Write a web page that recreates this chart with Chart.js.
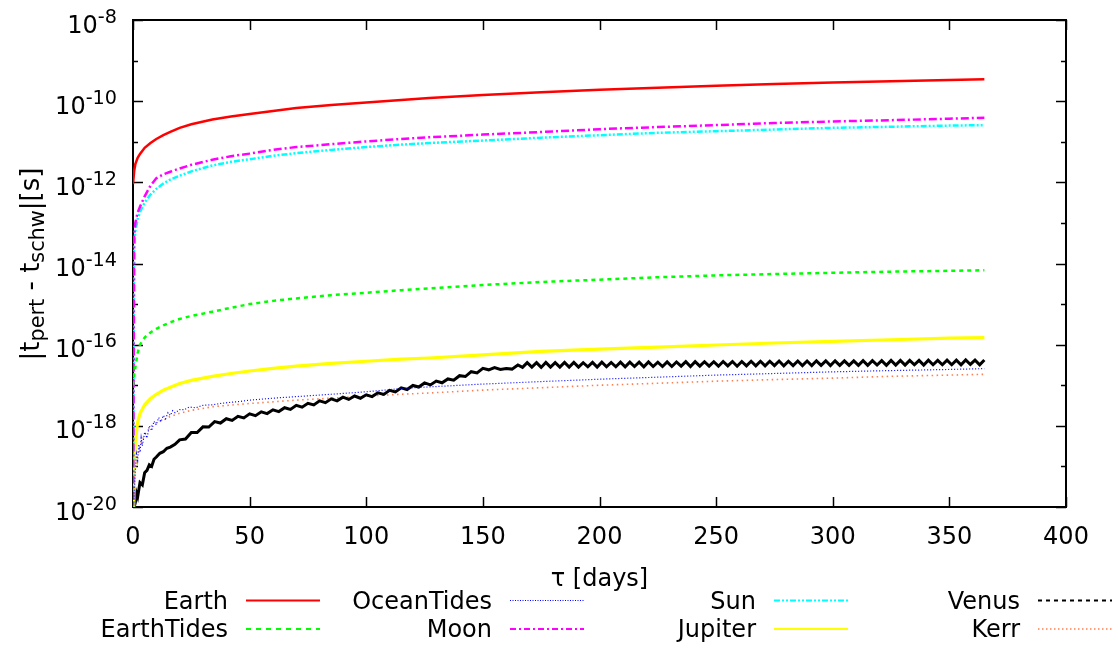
<!DOCTYPE html>
<html><head><meta charset="utf-8">
<script src="https://cdn.jsdelivr.net/npm/chart.js@4.4.1/dist/chart.umd.min.js"></script>
<style>html,body{margin:0;padding:0;background:#fff;}#wrap{width:1118px;height:648px;}</style>
</head><body><div id="wrap"><canvas id="c" width="1118" height="648"></canvas></div>
<script>
// ---- data ----
const seriesNames = ['Earth','EarthTides','OceanTides','Moon','Sun','Jupiter','Venus','Kerr'];
const xTickValues = [0,50,100,150,200,250,300,350,400];
const xTickLabels = ['0','50','100','150','200','250','300','350','400'];
const yMajorExp = [-8,-10,-12,-14,-16,-18,-20];
const yMinorExp = [-9,-11,-13,-15,-17,-19];
const xTitle = 'τ [days]';

const tau = [0,0.5,1,2,3,5,7.5,10,13,16,20,25,34,42,50,60,70,85,100,115,127,150,175,200,225,250,275,300,325,350,365];
const earth = [9e-13,1.9e-12,2.8e-12,4.0e-12,5.0e-12,7.1e-12,9.3e-12,1.17e-11,1.45e-11,1.74e-11,2.2e-11,2.7e-11,3.55e-11,4.2e-11,4.8e-11,5.75e-11,6.8e-11,8.1e-11,9.3e-11,1.07e-10,1.2e-10,1.41e-10,1.66e-10,1.9e-10,2.14e-10,2.4e-10,2.63e-10,2.9e-10,3.1e-10,3.3e-10,3.47e-10];
const earthTides = [1e-17,1.8e-17,2.8e-17,6.3e-17,1e-16,1.5e-16,2e-16,2.45e-16,3e-16,3.55e-16,4.3e-16,5.1e-16,6.5e-16,8.1e-16,1e-15,1.2e-15,1.38e-15,1.66e-15,1.9e-15,2.2e-15,2.45e-15,2.95e-15,3.5e-15,4e-15,4.6e-15,5.1e-15,5.5e-15,5.9e-15,6.3e-15,6.6e-15,6.8e-15];
const moon = [1e-21,5e-14,1e-13,1.8e-13,2.5e-13,4.5e-13,8.3e-13,1.26e-12,1.58e-12,1.82e-12,2.2e-12,2.7e-12,3.6e-12,4.4e-12,5.1e-12,6.3e-12,7.4e-12,8.7e-12,1.02e-11,1.17e-11,1.29e-11,1.5e-11,1.74e-11,2.04e-11,2.3e-11,2.57e-11,2.9e-11,3.16e-11,3.4e-11,3.7e-11,3.9e-11];
const sun = [1e-21,2.5e-14,6.3e-14,1.26e-13,1.86e-13,3.2e-13,5e-13,6.9e-13,9.3e-13,1.17e-12,1.45e-12,1.86e-12,2.6e-12,3.2e-12,3.7e-12,4.5e-12,5.25e-12,6.3e-12,7.4e-12,8.5e-12,9.3e-12,1.07e-11,1.26e-11,1.45e-11,1.66e-11,1.82e-11,2.0e-11,2.2e-11,2.34e-11,2.5e-11,2.57e-11];
const jupiter = [1e-21,4e-20,4e-19,1.26e-18,2e-18,3.3e-18,4.7e-18,6e-18,7.6e-18,8.9e-18,1.1e-17,1.32e-17,1.66e-17,1.95e-17,2.24e-17,2.6e-17,2.95e-17,3.45e-17,3.9e-17,4.4e-17,4.7e-17,5.6e-17,6.8e-17,7.8e-17,8.7e-17,9.8e-17,1.1e-16,1.2e-16,1.32e-16,1.45e-16,1.5e-16];
const kerr = [1e-21,2.5e-20,1e-19,2e-19,3.2e-19,6e-19,9.5e-19,1.2e-18,1.38e-18,1.7e-18,2.04e-18,2.4e-18,2.95e-18,3.25e-18,3.55e-18,3.9e-18,4.3e-18,4.8e-18,5.4e-18,6e-18,6.45e-18,7.6e-18,8.7e-18,1e-17,1.12e-17,1.26e-17,1.38e-17,1.5e-17,1.66e-17,1.78e-17,1.86e-17];

const oceanTau = [0,0.5,1,1.5,2,2.5,3,3.5,4,5,6,7,8,9,10,11,12,13,14,15,16,17,18,20,22,24,27,30,34,38,42,46,50,60,70,85,100,115,127,150,175,200,225,250,275,300,325,350,365];
const oceanTides = [1e-21,2.5e-20,8e-20,2e-19,1.4e-19,3.5e-19,2.2e-19,5e-19,3.2e-19,7e-19,5e-19,1e-18,7.6e-19,1.3e-18,1.05e-18,1.6e-18,1.26e-18,1.8e-18,1.5e-18,2.1e-18,1.8e-18,2.35e-18,2.1e-18,2.5e-18,2.5e-18,2.9e-18,2.8e-18,3.2e-18,3.3e-18,3.6e-18,3.8e-18,4e-18,4.3e-18,4.8e-18,5.25e-18,6e-18,6.9e-18,8.3e-18,9.1e-18,1.07e-17,1.23e-17,1.41e-17,1.58e-17,1.78e-17,1.95e-17,2.14e-17,2.3e-17,2.45e-17,2.57e-17];

const venusTau = [0,0.5,1,1.5,2,3,4,5,6,7,8,9,10,11.5,13,14.5,16,18,
 20,22.5,25,27.5,30,32.5,35,37.5,40,42.5,45,47.5,50,52.5,55,57.5,60,62.5,65,67.5,70,72.5,75,77.5,80,82.5,85,87.5,90,92.5,95,97.5,
 100,102.5,105,107.5,110,112.5,115,117.5,120,122.5,125,127.5,130,132.5,135,137.5,140,142.5,145,147.5,150,152.5,155,157.5,160,162.5,165,
 167,169,171,173,175,177,179,181,183,185,187,189,191,193,195,197,199,201,203,205,
 207,209,211,213,215,217,219,221,223,225,227,229,231,233,235,237,239,241,243,245,
 247,249,251,253,255,257,259,261,263,265,267,269,271,273,275,277,279,281,283,285,
 287,289,291,293,295,297,299,301,303,305,307,309,311,313,315,317,319,321,323,325,
 327,329,331,333,335,337,339,341,343,345,347,349,351,353,355,357,359,361,363,365];
const venus = [1e-21,1e-20,1.3e-20,2.2e-20,1.8e-20,4e-20,3.5e-20,7e-20,8e-20,1.1e-19,1.0e-19,1.5e-19,1.7e-19,2.1e-19,2.3e-19,2.8e-19,3.0e-19,3.5e-19,
 4.52e-19,4.73e-19,6.84e-19,6.84e-19,9.44e-19,9.33e-19,1.27e-18,1.17e-18,1.5e-18,1.36e-18,1.72e-18,1.57e-18,1.97e-18,1.78e-18,2.21e-18,2.0e-18,2.48e-18,2.24e-18,2.79e-18,2.54e-18,3.2e-18,2.88e-18,3.59e-18,3.27e-18,4.12e-18,3.72e-18,4.62e-18,4.12e-18,5.07e-18,4.47e-18,5.43e-18,4.79e-18,
 5.82e-18,5.25e-18,6.53e-18,5.96e-18,7.5e-18,6.84e-18,8.61e-18,7.85e-18,9.89e-18,9.02e-18,1.14e-17,1.02e-17,1.27e-17,1.15e-17,1.43e-17,1.33e-17,1.72e-17,1.64e-17,2.16e-17,2.02e-17,2.6e-17,2.4e-17,2.72e-17,2.45e-17,2.6e-17,2.5e-17,3.16e-17,
 2.75e-17,3.6e-17,2.8e-17,3.6e-17,2.75e-17,3.65e-17,2.8e-17,3.6e-17,2.8e-17,3.65e-17,2.8e-17,3.65e-17,2.8e-17,3.6e-17,2.85e-17,3.65e-17,2.8e-17,3.7e-17,2.85e-17,3.65e-17,
 2.85e-17,3.7e-17,2.85e-17,3.7e-17,2.9e-17,3.7e-17,2.85e-17,3.75e-17,2.9e-17,3.7e-17,2.9e-17,3.75e-17,2.9e-17,3.75e-17,2.95e-17,3.8e-17,2.9e-17,3.8e-17,2.95e-17,3.8e-17,
 2.95e-17,3.8e-17,2.95e-17,3.85e-17,3.0e-17,3.85e-17,2.95e-17,3.85e-17,3.0e-17,3.9e-17,3.0e-17,3.9e-17,3.0e-17,3.9e-17,3.05e-17,3.95e-17,3.0e-17,3.9e-17,3.05e-17,3.95e-17,
 3.05e-17,3.95e-17,3.05e-17,4.0e-17,3.1e-17,4.0e-17,3.05e-17,4.0e-17,3.1e-17,4.0e-17,3.1e-17,4.0e-17,3.1e-17,4.05e-17,3.1e-17,4.05e-17,3.15e-17,4.05e-17,3.1e-17,4.1e-17,
 3.15e-17,4.1e-17,3.15e-17,4.1e-17,3.2e-17,4.1e-17,3.15e-17,4.15e-17,3.2e-17,4.1e-17,3.2e-17,4.15e-17,3.2e-17,4.15e-17,3.2e-17,4.2e-17,3.25e-17,4.15e-17,3.2e-17,4.2e-17];

const seriesColors = ['#ff0000','#00ff00','#0000ff','#ff00ff','#00ffff','#ffff00','#000000','#ff7f50'];

// ---- build chart ----
function pts(xs, ys){ return xs.map((x,i)=>({x:x, y:ys[i]})); }
const seriesData = [pts(tau,earth), pts(tau,earthTides), pts(oceanTau,oceanTides), pts(tau,moon), pts(tau,sun), pts(tau,jupiter), pts(venusTau,venus), pts(tau,kerr)];
const styles = [
  {w:2.5, dash:[], ldash:[]},
  {w:2.5, dash:[4,4], ldash:[5,5]},
  {w:1.2, dash:[1,2], ldash:[1,1.5]},
  {w:2.5, dash:[8,3,2,3], ldash:[6,3,2,3]},
  {w:2.5, dash:[6,2,2,2,2,2], ldash:[6,2,2,2,2,2]},
  {w:3.2, dash:[], ldash:[]},
  {w:3, dash:[], ldash:[4,4]},
  {w:1.6, dash:[1.5,3.5], ldash:[1.5,2.5]}
];
const datasets = seriesNames.map((n,i)=>({
  label:n, data:seriesData[i], borderColor:seriesColors[i], backgroundColor:seriesColors[i],
  borderWidth:styles[i].w, borderDash:styles[i].dash, legendDash:styles[i].ldash,
  pointRadius:0, tension:0, fill:false
}));

const FONT = '"DejaVu Sans", sans-serif';
const BASE = 24, SUP = 19.2, TBASE = 26, TSUB = 20.8;

const decor = {
  id:'decor',
  beforeDatasetsDraw(chart){
    const ctx=chart.ctx, a=chart.chartArea, xs=chart.scales.x, ys=chart.scales.y;
    ctx.save();
    ctx.strokeStyle='#000'; ctx.lineWidth=1.5; ctx.setLineDash([]);
    const L=(x1,y1,x2,y2)=>{ctx.beginPath();ctx.moveTo(x1,y1);ctx.lineTo(x2,y2);ctx.stroke();};
    xTickValues.forEach(v=>{const p=Math.round(xs.getPixelForValue(v))+0.5; L(p,a.bottom,p,a.bottom-10); L(p,a.top,p,a.top+10);});
    yMajorExp.forEach(e=>{const p=Math.round(ys.getPixelForValue(Math.pow(10,e)))+0.5; L(a.left,p,a.left+10,p); L(a.right,p,a.right-10,p);});
    yMinorExp.forEach(e=>{const p=Math.round(ys.getPixelForValue(Math.pow(10,e)))+0.5; L(a.left,p,a.left+5,p); L(a.right,p,a.right-5,p);});
    ctx.lineWidth=2;
    ctx.strokeRect(a.left, a.top, a.right-a.left, a.bottom-a.top);
    ctx.restore();
  },
  afterDraw(chart){
    const ctx=chart.ctx, a=chart.chartArea, xs=chart.scales.x, ys=chart.scales.y;
    ctx.save();
    ctx.fillStyle='#000'; ctx.textBaseline='alphabetic';
    // x tick labels
    ctx.font=BASE+'px '+FONT; ctx.textAlign='center';
    xTickValues.forEach((v,i)=>{ctx.fillText(xTickLabels[i], xs.getPixelForValue(v), a.bottom+36.5);});
    // y tick labels 10^e
    yMajorExp.forEach(e=>{
      const p=ys.getPixelForValue(Math.pow(10,e));
      const right=a.left-16;
      ctx.font=SUP+'px '+FONT; ctx.textAlign='right';
      const s=String(e); ctx.fillText(s,right,p+2.5);
      const w=ctx.measureText(s).width;
      ctx.font=BASE+'px '+FONT; ctx.fillText('10',right-w,p+12.5);
    });
    // x title
    ctx.font=BASE+'px '+FONT; ctx.textAlign='center';
    ctx.fillText(xTitle,(a.left+a.right)/2,586);
    // y title with subscripts
    const parts=[['|t',0],['pert',1],[' - t',0],['schw',1],['|[s]',0]];
    let tot=0; parts.forEach(pp=>{ctx.font=(pp[1]?TSUB:TBASE)+'px '+FONT; tot+=ctx.measureText(pp[0]).width;});
    ctx.translate(39,264); ctx.rotate(-Math.PI/2);
    ctx.textAlign='left';
    let x=-tot/2;
    parts.forEach(pp=>{ctx.font=(pp[1]?TSUB:TBASE)+'px '+FONT; ctx.fillText(pp[0],x,pp[1]?5:0); x+=ctx.measureText(pp[0]).width;});
    ctx.restore();
    // legend (4 columns x 2 rows, column-major)
    ctx.save();
    chart.data.datasets.forEach((ds,i)=>{
      const col=Math.floor(i/2), row=i%2;
      const tr=228+col*264, y=600+row*28.5;
      ctx.fillStyle='#000'; ctx.font=BASE+'px '+FONT; ctx.textAlign='right'; ctx.textBaseline='alphabetic';
      ctx.fillText(ds.label,tr,y+8.5);
      ctx.strokeStyle=ds.borderColor; ctx.lineWidth=Math.min(ds.borderWidth,2); ctx.setLineDash(ds.legendDash);
      ctx.beginPath(); ctx.moveTo(tr+18,y+0.5); ctx.lineTo(tr+92,y+0.5); ctx.stroke();
    });
    ctx.restore();
  }
};

new Chart(document.getElementById('c'),{
  type:'line',
  data:{datasets:datasets},
  options:{
    responsive:false, animation:false, devicePixelRatio:1,
    layout:{padding:{left:133,right:52,top:20,bottom:141}},
    plugins:{legend:{display:false}, tooltip:{enabled:false}},
    scales:{
      x:{type:'linear',min:0,max:400,grid:{display:false,drawTicks:false,tickLength:0},border:{display:false},ticks:{display:false,stepSize:50,padding:0}},
      y:{type:'logarithmic',min:1e-20,max:1e-8,grid:{display:false,drawTicks:false,tickLength:0},border:{display:false},ticks:{display:false,padding:0}}
    }
  },
  plugins:[decor]
});
</script></body></html>
